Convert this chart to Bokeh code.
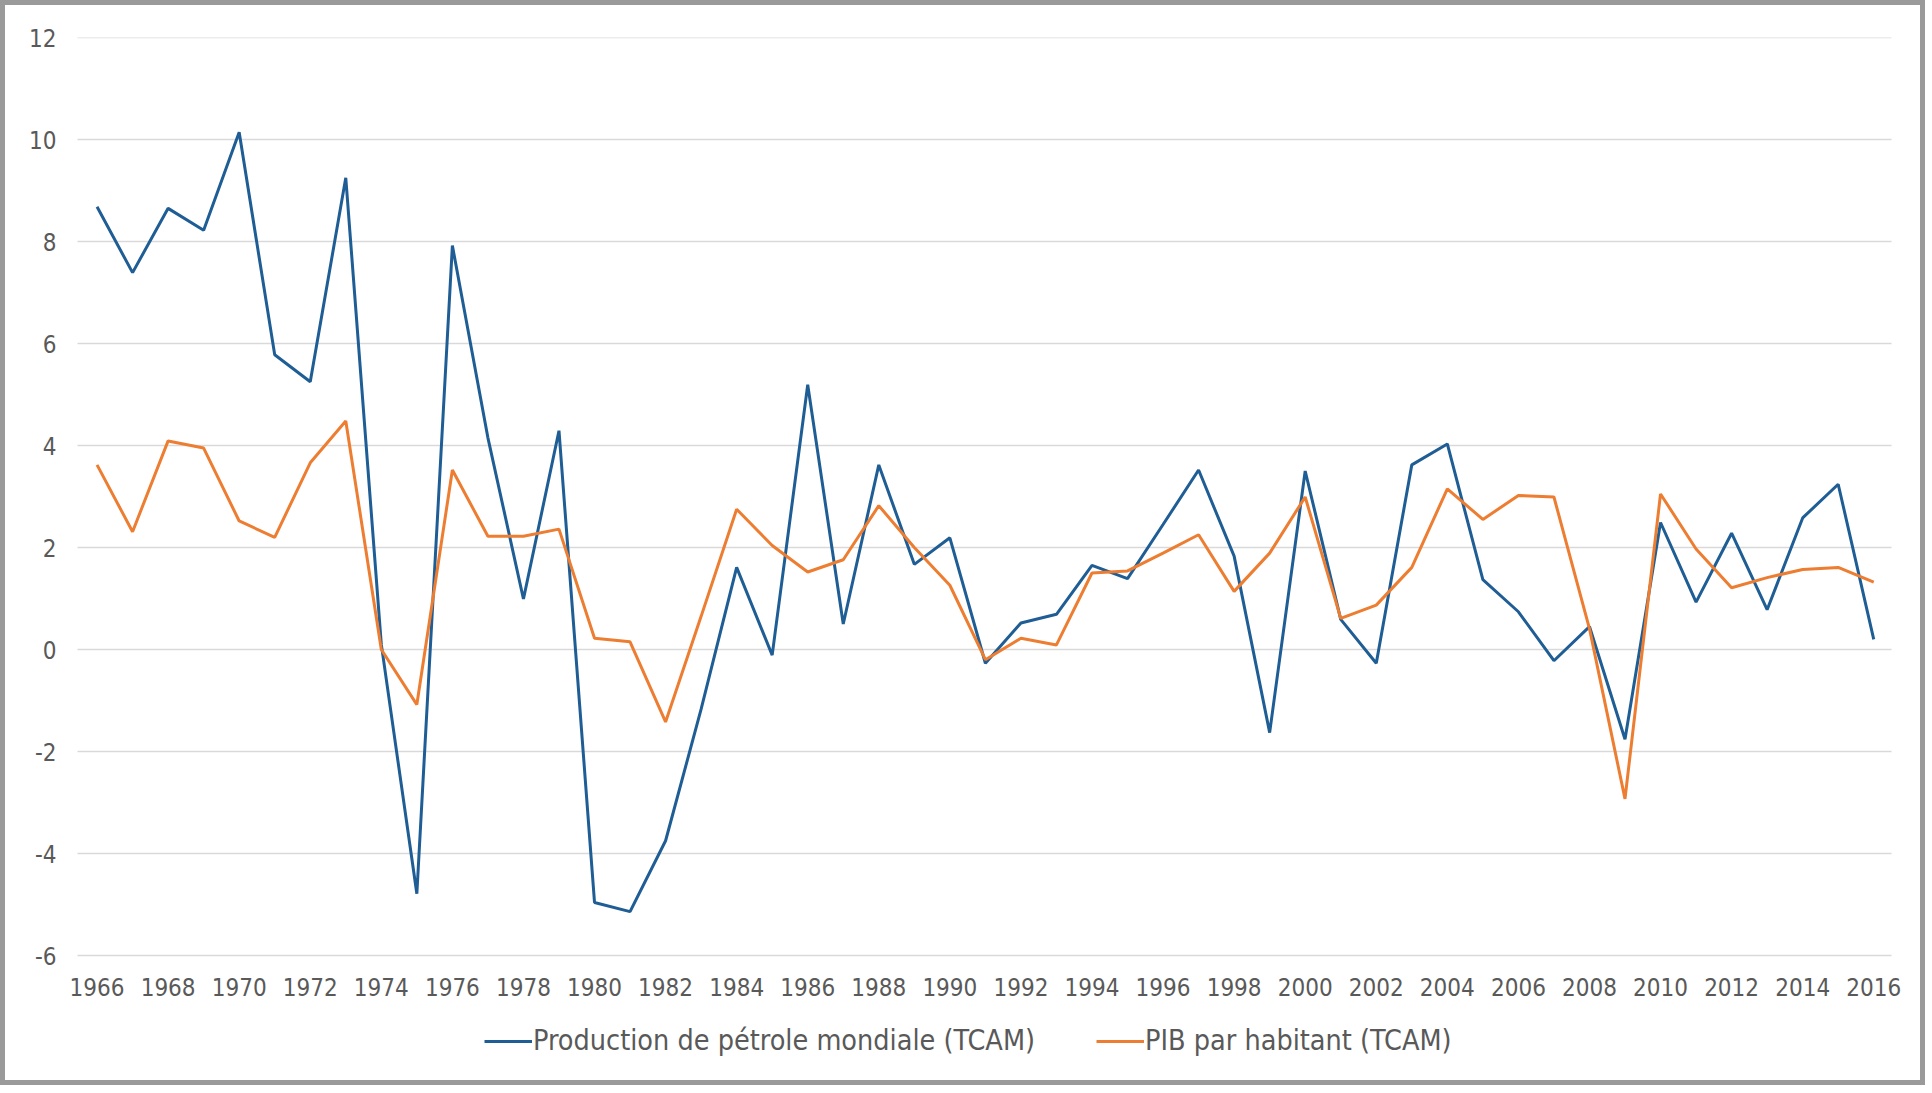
from bokeh.plotting import figure
from bokeh.models import Range1d, FixedTicker, Legend, LegendItem, PrintfTickFormatter
from bokeh.embed import file_html
from bokeh.resources import INLINE

years = list(range(1966, 2017))

production_petrole = [
    8.68, 7.39, 8.65, 8.22, 10.14, 5.78, 5.25, 9.25, 0.10, -4.79,
    7.92, 4.15, 0.99, 4.29, -4.96, -5.14, -3.75, -1.17, 1.61, -0.11,
    5.19, 0.50, 3.62, 1.67, 2.19, -0.27, 0.52, 0.69, 1.65, 1.39,
    2.45, 3.52, 1.83, -1.63, 3.50, 0.59, -0.27, 3.62, 4.03, 1.37,
    0.74, -0.22, 0.45, -1.76, 2.49, 0.93, 2.28, 0.78, 2.58, 3.24,
    0.20,
]

pib_habitant = [
    3.62, 2.31, 4.09, 3.95, 2.52, 2.20, 3.66, 4.48, 0.00, -1.08,
    3.52, 2.22, 2.22, 2.36, 0.22, 0.15, -1.42, 0.65, 2.75, 2.04,
    1.52, 1.76, 2.82, 2.00, 1.26, -0.20, 0.22, 0.09, 1.50, 1.54,
    1.89, 2.25, 1.14, 1.89, 2.99, 0.61, 0.87, 1.61, 3.15, 2.55,
    3.02, 2.99, 0.41, -2.93, 3.05, 1.97, 1.21, 1.41, 1.57, 1.61,
    1.32,
]

x_ticks = list(range(1966, 2017, 2))
y_ticks = list(range(-6, 13, 2))

label_prod = "Production de pétrole mondiale (TCAM)"
label_pib = "PIB par habitant (TCAM)"

FONT = "DejaVu Sans Condensed"
TEXT_COLOR = "#595959"
BLUE = "#1F5D95"
ORANGE = "#ED7D31"

W, H = 1925, 1085
LEFT, RIGHT, TOP, BOTTOM = 60, 15, 37, 6
PX_PER_UNIT = 51.0
PX_PER_YEAR = 1814 / 51.05
grid_x0, grid_x1 = 1965.45, 2016.5          # extent of the horizontal gridlines
x_start = grid_x0 - (77 - LEFT) / PX_PER_YEAR
x_end = grid_x1 + ((W - RIGHT) - 1891) / PX_PER_YEAR
y_top = 12
y_bottom = y_top - (H - TOP - BOTTOM) / PX_PER_UNIT

p = figure(
    width=W, height=H,
    x_range=Range1d(x_start, x_end),
    y_range=Range1d(y_bottom, y_top),
    output_backend="svg", toolbar_location=None,
    min_border_left=LEFT, min_border_right=RIGHT,
    min_border_top=TOP, min_border_bottom=BOTTOM,
)
p.outline_line_color = None
p.background_fill_color = None
p.border_fill_color = None
p.styles = {"box-shadow": "inset 0 0 0 5px #9a9a9a", "background-color": "white"}

p.xgrid.grid_line_color = None
p.ygrid.grid_line_color = None
p.segment(x0=[grid_x0] * len(y_ticks), x1=[grid_x1] * len(y_ticks),
          y0=y_ticks, y1=y_ticks, line_color="#d9d9d9", line_width=1.5)

r1 = p.line(years, production_petrole, line_color=BLUE, line_width=3)
r2 = p.line(years, pib_habitant, line_color=ORANGE, line_width=3)

for ax in (p.xaxis[0], p.yaxis[0]):
    ax.axis_line_color = None
    ax.major_tick_line_color = None
    ax.minor_tick_line_color = None
    ax.major_tick_out = 0
    ax.major_tick_in = 0
    ax.minor_tick_out = 0
    ax.major_label_text_font = FONT
    ax.major_label_text_font_size = "24px"
    ax.major_label_text_color = TEXT_COLOR

p.xaxis[0].ticker = FixedTicker(ticks=x_ticks)
p.yaxis[0].ticker = FixedTicker(ticks=y_ticks)
p.yaxis[0].formatter = PrintfTickFormatter(format="%d")
p.xaxis[0].formatter = PrintfTickFormatter(format="%d")
p.xaxis[0].fixed_location = -6
p.xaxis[0].major_label_standoff = 22
p.yaxis[0].major_label_standoff = 4

common = dict(
    orientation="horizontal",
    label_text_font=FONT, label_text_font_size="28.5px",
    label_text_color=TEXT_COLOR,
    glyph_width=48, glyph_height=20, label_standoff=1,
    border_line_color=None, background_fill_alpha=0,
    padding=0, margin=0,
)
leg1 = Legend(items=[LegendItem(label=label_prod, renderers=[r1])],
              location=(484 - LEFT, 22), **common)
leg2 = Legend(items=[LegendItem(label=label_pib, renderers=[r2])],
              location=(1096 - LEFT, 22), **common)
p.add_layout(leg1, "center")
p.add_layout(leg2, "center")

open("out.html", "w").write(file_html(p, INLINE))
